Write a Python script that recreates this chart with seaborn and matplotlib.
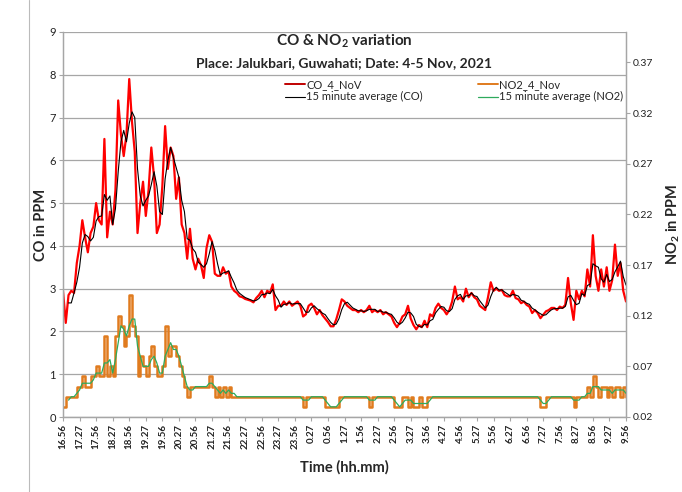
import numpy as np
import pandas as pd
import matplotlib
matplotlib.use("Agg")
import matplotlib.pyplot as plt
from matplotlib.lines import Line2D
import seaborn as sns

# ---------- dados (um valor a cada 5 min, 16:56 -> 9:56) ---------- #
co_ppm = [
    2.95, 2.2, 2.85, 2.95, 2.9, 3.6, 4.0, 4.6, 4.2, 3.85,
    4.3, 4.45, 5.0, 4.6, 4.5, 6.5, 4.2, 4.8, 4.5, 5.3,
    7.4, 6.6, 6.1, 6.6, 7.9, 6.9, 6.2, 4.3, 5.0, 5.5,
    4.7, 5.3, 6.3, 5.6, 4.3, 4.5, 5.4, 6.8, 5.8, 6.3,
    6.1, 5.1, 5.6, 4.5, 4.3, 3.7, 4.4, 3.7, 3.45, 3.7,
    3.55, 3.25, 3.95, 4.25, 4.1, 3.35, 3.3, 3.3, 3.5, 3.35,
    3.4, 3.05, 2.95, 2.9, 2.82, 2.8, 2.76, 2.74, 2.72, 2.68,
    2.78, 2.85, 2.95, 2.8, 2.95, 2.9, 3.1, 2.5, 2.6, 2.6,
    2.7, 2.62, 2.7, 2.6, 2.65, 2.7, 2.6, 2.35, 2.4, 2.6,
    2.65, 2.55, 2.4, 2.5, 2.38, 2.3, 2.22, 2.12, 2.12, 2.28,
    2.5, 2.75, 2.7, 2.6, 2.55, 2.5, 2.5, 2.45, 2.5, 2.45,
    2.5, 2.6, 2.45, 2.5, 2.45, 2.5, 2.4, 2.45, 2.4, 2.35,
    2.2, 2.1, 2.2, 2.35, 2.4, 2.6, 2.3, 2.15, 2.05, 2.15,
    2.1, 2.25, 2.1, 2.4, 2.35, 2.55, 2.65, 2.55, 2.5, 2.4,
    2.5, 2.7, 3.05, 2.75, 2.8, 2.7, 3.0, 2.8, 2.9, 2.8,
    2.75, 2.6, 2.55, 2.5, 2.8, 3.15, 2.95, 3.0, 2.95, 2.97,
    2.85, 2.82, 2.82, 2.95, 2.78, 2.75, 2.66, 2.7, 2.62, 2.58,
    2.43, 2.5, 2.43, 2.31, 2.39, 2.47, 2.5, 2.55, 2.55, 2.5,
    2.58, 2.55, 2.62, 3.25, 2.66, 2.27, 2.95, 2.75, 2.95, 2.82,
    3.45, 3.05, 4.25, 3.3, 2.95, 3.45, 3.05, 3.5, 2.95, 3.2,
    4.03, 3.3, 3.6, 2.95, 2.7,
]

no2_ppm = [
    0.03, 0.04, 0.04, 0.04, 0.04, 0.05, 0.05, 0.06, 0.05, 0.05,
    0.06, 0.06, 0.07, 0.06, 0.06, 0.10, 0.06, 0.07, 0.06, 0.10,
    0.12, 0.11, 0.09, 0.10, 0.14, 0.11, 0.10, 0.06, 0.08, 0.07,
    0.06, 0.08, 0.09, 0.07, 0.06, 0.06, 0.07, 0.11, 0.08, 0.09,
    0.09, 0.08, 0.07, 0.06, 0.05, 0.04, 0.05, 0.05, 0.05, 0.05,
    0.05, 0.05, 0.05, 0.06, 0.05, 0.04, 0.05, 0.04, 0.05, 0.04,
    0.05, 0.04, 0.04, 0.04, 0.04, 0.04, 0.04, 0.04, 0.04, 0.04,
    0.04, 0.04, 0.04, 0.04, 0.04, 0.04, 0.04, 0.04, 0.04, 0.04,
    0.04, 0.04, 0.04, 0.04, 0.04, 0.04, 0.04, 0.03, 0.04, 0.04,
    0.04, 0.04, 0.04, 0.04, 0.04, 0.03, 0.03, 0.03, 0.03, 0.03,
    0.04, 0.04, 0.04, 0.04, 0.04, 0.04, 0.04, 0.04, 0.04, 0.04,
    0.04, 0.03, 0.04, 0.04, 0.04, 0.04, 0.04, 0.04, 0.04, 0.04,
    0.03, 0.03, 0.03, 0.04, 0.04, 0.03, 0.04, 0.03, 0.03, 0.04,
    0.03, 0.03, 0.04, 0.04, 0.04, 0.04, 0.04, 0.04, 0.04, 0.04,
    0.04, 0.04, 0.04, 0.04, 0.04, 0.04, 0.04, 0.04, 0.04, 0.04,
    0.04, 0.04, 0.04, 0.04, 0.04, 0.04, 0.04, 0.04, 0.04, 0.04,
    0.04, 0.04, 0.04, 0.04, 0.04, 0.04, 0.04, 0.04, 0.04, 0.04,
    0.04, 0.04, 0.04, 0.03, 0.03, 0.04, 0.04, 0.04, 0.04, 0.04,
    0.04, 0.04, 0.04, 0.04, 0.04, 0.03, 0.04, 0.04, 0.04, 0.04,
    0.05, 0.04, 0.06, 0.05, 0.04, 0.05, 0.05, 0.04, 0.05, 0.04,
    0.05, 0.05, 0.04, 0.05, 0.04,
]

time_labels = [
    "16.56", "17.27", "17.56", "18.27", "18.56", "19.27", "19.56", "20.27",
    "20.56", "21.27", "21.56", "22.27", "22.56", "23.27", "23.56", "0.27",
    "0.56", "1.27", "1.56", "2.27", "2.56", "3.27", "3.56", "4.27", "4.56",
    "5.27", "5.56", "6.27", "6.56", "7.27", "7.56", "8.27", "8.56", "9.27", "9.56",
]

co_ticks = [0, 1, 2, 3, 4, 5, 6, 7, 8, 9]
no2_ticks = [0.02, 0.07, 0.12, 0.17, 0.22, 0.27, 0.32, 0.37]
no2_tick_labels = ["0.02", "0.07", "0.12", "0.17", "0.22", "0.27", "0.32", "0.37"]
# ----------------------------------------------------------------------------- #

df = pd.DataFrame({"minuto": np.arange(len(co_ppm)) * 5, "co": co_ppm, "no2": no2_ppm})
# média móvel de 15 minutos (3 leituras de 5 min)
df["co_15"] = df["co"].rolling(3).mean()
df["no2_15"] = df["no2"].rolling(3).mean()

sns.set_theme(style="white")
plt.rcParams["font.family"] = ["Lato", "DejaVu Sans"]
plt.rcParams["mathtext.fontset"] = "custom"
plt.rcParams["mathtext.rm"] = "Lato"
plt.rcParams["mathtext.bf"] = "Lato:bold"

cinza = "#A6A6A6"
fig = plt.figure(figsize=(6.82, 4.92), dpi=100)
ax = fig.add_axes([63 / 682, 1 - 417 / 492, (626 - 63) / 682, (417 - 32) / 492])
ax2 = ax.twinx()

sns.lineplot(data=df, x="minuto", y="co", ax=ax, color="#FF0000", lw=1.6, legend=False)
sns.lineplot(data=df, x="minuto", y="co_15", ax=ax, color="black", lw=0.8, legend=False)
sns.lineplot(data=df, x="minuto", y="no2", ax=ax2, color="#E07B1E", lw=1.8,
             drawstyle="steps-post", legend=False)
sns.lineplot(data=df, x="minuto", y="no2_15", ax=ax2, color="#2EAA5C", lw=0.9, legend=False)

ax.set_xlim(df["minuto"].iloc[0], df["minuto"].iloc[-1])
ax.set_ylim(0, 9)
ax2.set_ylim(0.02, 0.40)

ax.set_yticks(co_ticks)
ax.set_yticklabels([str(v) for v in co_ticks], fontsize=8)
ax2.set_yticks(no2_ticks)
ax2.set_yticklabels(no2_tick_labels, fontsize=7.5)

pos = np.linspace(df["minuto"].iloc[0], df["minuto"].iloc[-1], len(time_labels))
ax.set_xticks(pos)
ax.set_xticklabels(time_labels, rotation=90, fontsize=7, fontweight="bold")

ax.yaxis.grid(True, color=cinza, lw=0.9)
ax.set_axisbelow(True)
for a in (ax, ax2):
    a.spines["top"].set_visible(False)
    for s in ("left", "right", "bottom"):
        a.spines[s].set_color(cinza)
        a.spines[s].set_linewidth(0.9)
ax.tick_params(axis="both", direction="out", length=3, width=0.8, color=cinza,
               colors="#222222", pad=2, left=True, bottom=True)
ax2.tick_params(axis="y", direction="out", length=3, width=0.8, color=cinza,
                colors="#222222", pad=2, right=True)

ax.set_xlabel("Time (hh.mm)", fontsize=10.5, fontweight="bold", labelpad=8)
ax.set_ylabel("CO in PPM", fontsize=10.5, fontweight="bold", labelpad=1)
ax2.set_ylabel(r"NO$_\mathbf{2}$ in PPM", fontsize=10.5, fontweight="bold", labelpad=8)

ax.text(0.5, 0.998, r"CO & NO$_\mathbf{2}$ variation", transform=ax.transAxes,
        ha="center", va="top", fontsize=11, fontweight="bold")
ax.text(0.5, 0.936, "Place: Jalukbari, Guwahati; Date: 4-5 Nov, 2021", transform=ax.transAxes,
        ha="center", va="top", fontsize=10, fontweight="bold")

handles = [
    Line2D([], [], color="#C00000", lw=1.4),
    Line2D([], [], color="black", lw=0.8),
    Line2D([], [], color="#E07B1E", lw=1.4),
    Line2D([], [], color="#2EAA5C", lw=0.9),
]
labels = ["CO_4_NoV", "15 minute average (CO)", "NO2_4_Nov", "15 minute average (NO2)"]
ax2.legend(handles, labels, ncol=2, loc="center", bbox_to_anchor=(0.695, 0.847),
           frameon=False, fontsize=8, handlelength=1.8, handletextpad=0.1,
           columnspacing=5.0, labelspacing=0.1, borderaxespad=0)

fig.add_artist(Line2D([29 / 682, 29 / 682], [0, 1], transform=fig.transFigure,
                      color="#BBBBBB", lw=0.8))

fig.savefig("out.png", dpi=100)
